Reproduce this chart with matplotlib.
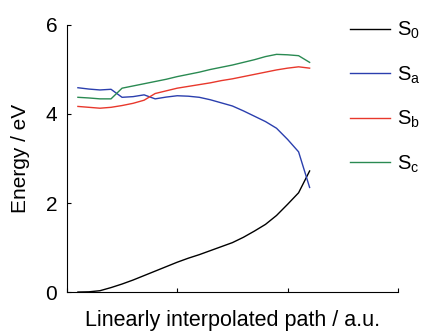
import matplotlib
matplotlib.use("Agg")
import matplotlib.pyplot as plt
import numpy as np

plt.rcParams['font.family'] = ['Liberation Sans', 'DejaVu Sans']
plt.rcParams['mathtext.fontset'] = 'custom'
plt.rcParams['mathtext.rm'] = 'Liberation Sans'

# interpolation points along the path
path = np.arange(1, 23)

e_s0 = [0.0, 0.005, 0.03, 0.10, 0.18, 0.27, 0.37, 0.47, 0.57, 0.67, 0.76,
        0.84, 0.93, 1.02, 1.11, 1.23, 1.37, 1.52, 1.72, 1.97, 2.23, 2.72]
e_sa = [4.59, 4.56, 4.54, 4.555, 4.375, 4.39, 4.43, 4.34, 4.38, 4.41, 4.40,
        4.375, 4.32, 4.25, 4.18, 4.07, 3.95, 3.83, 3.68, 3.43, 3.15, 2.35]
e_sb = [4.17, 4.15, 4.13, 4.15, 4.19, 4.24, 4.31, 4.46, 4.52, 4.58, 4.62,
        4.66, 4.70, 4.75, 4.79, 4.84, 4.89, 4.94, 4.99, 5.03, 5.06, 5.03]
e_sc = [4.375, 4.36, 4.34, 4.34, 4.58, 4.63, 4.68, 4.73, 4.78, 4.84, 4.89,
        4.94, 5.00, 5.05, 5.10, 5.16, 5.22, 5.29, 5.34, 5.33, 5.31, 5.16]

states = ['$\\mathregular{S_0}$', '$\\mathregular{S_a}$',
          '$\\mathregular{S_b}$', '$\\mathregular{S_c}$']
colors = ['black', '#2b3fae', '#e8382c', '#2a8a52']

fig = plt.figure(figsize=(4.26, 3.33), dpi=100)
ax = fig.add_axes([0.157, 0.123, 0.777, 0.802])

for e, lab, c in zip([e_s0, e_sa, e_sb, e_sc], states, colors):
    ax.plot(path, e, color=c, lw=1.0, label=lab)

ax.set_xlim(0, 30)
ax.set_ylim(0, 6)
ax.set_xticks([0, 10, 20, 30])
ax.set_xticklabels([])
ax.set_yticks([0, 2, 4, 6])
ax.tick_params(direction='in', length=3, labelsize=15, width=0.8, pad=7)
for side in ['top', 'right']:
    ax.spines[side].set_visible(False)
for side in ['left', 'bottom']:
    ax.spines[side].set_linewidth(0.8)

ax.set_xlabel('Linearly interpolated path / a.u.', fontsize=15.5, labelpad=6)
ax.set_ylabel('Energy / eV', fontsize=15, labelpad=11)

fig.legend(loc='upper left', bbox_to_anchor=(0.797, 0.97), frameon=False,
           fontsize=14.5, handlelength=2.0, handletextpad=0.35,
           labelspacing=1.15, borderpad=0)

fig.savefig('out.png', dpi=100)
